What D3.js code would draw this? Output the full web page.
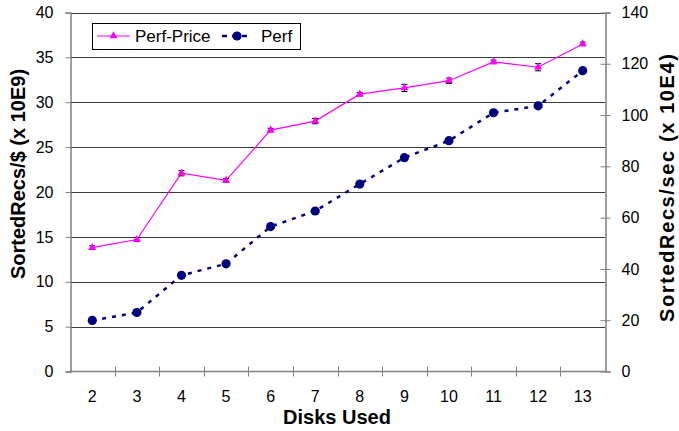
<!DOCTYPE html>
<html>
<head>
<meta charset="utf-8">
<script src="https://cdn.jsdelivr.net/npm/d3@7"></script>
<style>
  body { margin: 0; background: #fff; }
  svg { display: block; font-family: Arial, "Liberation Sans", Helvetica, sans-serif; }
</style>
</head>
<body>
<svg id="chart" width="679" height="431"></svg>
<script>
// Disks used on the x axis
const disks = [2, 3, 4, 5, 6, 7, 8, 9, 10, 11, 12, 13];
// Sorted records per dollar (x 10E9), left axis
const perfPrice = [13.8, 14.7, 22.1, 21.3, 26.9, 27.9, 30.9, 31.6, 32.4, 34.5, 33.9, 36.5];
// small spread drawn as error caps on the perf-price series
const perfPriceErr = [0.2, 0.2, 0.3, 0.2, 0.2, 0.3, 0.2, 0.4, 0.3, 0.2, 0.4, 0.2];
// Sorted records per second (x 10E4), right axis
const perf = [19.9, 23.0, 37.5, 42.0, 56.5, 62.6, 73.1, 83.4, 90.0, 100.9, 103.6, 117.3];
const leftTicks = [0, 5, 10, 15, 20, 25, 30, 35, 40];
const rightTicks = [0, 20, 40, 60, 80, 100, 120, 140];

const svg = d3.select("#chart");
const m = { left: 70, right: 605, top: 12.5, bottom: 371.5 };

const x = d3.scaleBand().domain(disks).range([m.left, m.right]).padding(0);
const yL = d3.scaleLinear().domain([0, 40]).range([m.bottom, m.top]);
const yR = d3.scaleLinear().domain([0, 140]).range([m.bottom, m.top]);
const cx = d => x(d) + x.bandwidth() / 2;

// horizontal gridlines on the left-axis ticks
svg.append("g").selectAll("line").data(leftTicks.filter(t => t > 0)).join("line")
  .attr("x1", m.left).attr("x2", m.right)
  .attr("y1", d => Math.round(yL(d)) + 0.5).attr("y2", d => Math.round(yL(d)) + 0.5)
  .attr("stroke", "#3a3a3a").attr("stroke-width", 1);

const axisColor = "#808080";
const tickFont = 16;

// left axis
const gL = svg.append("g").attr("transform", `translate(${m.left + 0.5},0)`)
  .call(d3.axisLeft(yL).tickValues(leftTicks).tickSize(5).tickPadding(12));
// right axis, ticks crossing the line
const gR = svg.append("g").attr("transform", `translate(${m.right + 0.5},0)`)
  .call(d3.axisRight(yR).tickValues(rightTicks).tickSize(5).tickPadding(11));
gR.selectAll(".tick line").attr("x1", -5);
// bottom axis with ticks between categories
const gB = svg.append("g").attr("transform", `translate(0,${m.bottom})`)
  .call(d3.axisBottom(x).tickSize(0).tickPadding(19));
gB.selectAll(".domain").remove();
svg.append("line").attr("x1", m.left).attr("x2", m.right + 1)
  .attr("y1", m.bottom).attr("y2", m.bottom).attr("stroke", axisColor).attr("stroke-width", 1.5);
svg.append("g").selectAll("line").data(disks.slice(1)).join("line")
  .attr("x1", d => Math.round(x(d)) + 0.5).attr("x2", d => Math.round(x(d)) + 0.5)
  .attr("y1", m.bottom - 5).attr("y2", m.bottom + 5)
  .attr("stroke", axisColor).attr("stroke-width", 1);

[gL, gR].forEach(g => {
  g.select(".domain").attr("stroke", axisColor).attr("stroke-width", 1.5);
  g.selectAll(".tick line").attr("stroke", axisColor);
});
[gL, gR, gB].forEach(g => {
  g.selectAll(".tick text").attr("font-size", tickFont).attr("fill", "#000")
    .attr("font-family", "Arial, 'Liberation Sans', sans-serif");
});

// Perf series: navy dashed line with filled circles (right axis)
const lineR = d3.line().x((d, i) => cx(disks[i])).y(d => yR(d));
svg.append("path").datum(perf).attr("d", lineR)
  .attr("fill", "none").attr("stroke", "#000080").attr("stroke-width", 2.5)
  .attr("stroke-dasharray", "4,6");
svg.append("g").selectAll("circle").data(perf).join("circle")
  .attr("cx", (d, i) => cx(disks[i])).attr("cy", d => yR(d)).attr("r", 4.6)
  .attr("fill", "#000080");

// Perf-Price series: magenta line with triangles and error caps (left axis)
const lineL = d3.line().x((d, i) => cx(disks[i])).y(d => yL(d));
svg.append("path").datum(perfPrice).attr("d", lineL)
  .attr("fill", "none").attr("stroke", "#ff00ff").attr("stroke-width", 1.2);
const err = svg.append("g").attr("stroke", "#000").attr("stroke-width", 1);
perfPrice.forEach((v, i) => {
  const px = cx(disks[i]);
  const hi = yL(v + perfPriceErr[i]), lo = yL(v - perfPriceErr[i]);
  err.append("line").attr("x1", px).attr("x2", px).attr("y1", hi).attr("y2", lo);
  err.append("line").attr("x1", px - 3).attr("x2", px + 3).attr("y1", hi).attr("y2", hi);
  err.append("line").attr("x1", px - 3).attr("x2", px + 3).attr("y1", lo).attr("y2", lo);
});
const tri = d3.symbol().type(d3.symbolTriangle).size(28);
svg.append("g").selectAll("path").data(perfPrice).join("path")
  .attr("d", tri)
  .attr("transform", (d, i) => `translate(${cx(disks[i])},${yL(d)})`)
  .attr("fill", "#ff00ff");

// legend
const lg = svg.append("g");
lg.append("rect").attr("x", 92.5).attr("y", 23.5).attr("width", 208).attr("height", 26)
  .attr("fill", "#fff").attr("stroke", "#000").attr("stroke-width", 1);
lg.append("line").attr("x1", 97).attr("x2", 130).attr("y1", 36).attr("y2", 36)
  .attr("stroke", "#ff00ff").attr("stroke-width", 1.2);
lg.append("path").attr("d", tri).attr("transform", "translate(113.5,36)").attr("fill", "#ff00ff");
lg.append("text").attr("x", 135).attr("y", 42).attr("font-size", 17).text("Perf-Price");
lg.append("line").attr("x1", 222).attr("x2", 252).attr("y1", 36).attr("y2", 36)
  .attr("stroke", "#000080").attr("stroke-width", 2.5).attr("stroke-dasharray", "5,5");
lg.append("circle").attr("cx", 237).attr("cy", 36).attr("r", 4.6).attr("fill", "#000080");
lg.append("text").attr("x", 261).attr("y", 42).attr("font-size", 17).text("Perf");

// axis titles
svg.append("text").attr("transform", "translate(25,174) rotate(-90)")
  .attr("text-anchor", "middle").attr("font-size", 20).attr("font-weight", "bold")
  .text("SortedRecs/$ (x 10E9)");
svg.append("text").attr("transform", "translate(674,188) rotate(-90)")
  .attr("text-anchor", "middle").attr("font-size", 20).attr("font-weight", "bold")
  .attr("textLength", 268).attr("lengthAdjust", "spacing")
  .text("SortedRecs/sec (x 10E4)");
svg.append("text").attr("x", 337).attr("y", 424)
  .attr("text-anchor", "middle").attr("font-size", 20).attr("font-weight", "bold")
  .text("Disks Used");
</script>
</body>
</html>
